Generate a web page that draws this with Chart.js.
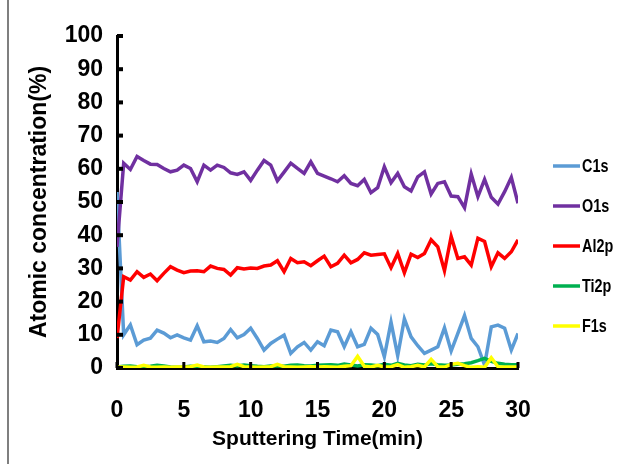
<!DOCTYPE html>
<html>
<head>
<meta charset="utf-8">
<script src="https://cdn.jsdelivr.net/npm/chart.js@4"></script>
<style>
  html, body { margin: 0; padding: 0; background: #fff; }
  #wrap { position: relative; width: 632px; height: 464px; }
</style>
</head>
<body>
<div id="wrap"><canvas id="depthProfile" width="632" height="464"></canvas></div>
<script>
// sputtering time (min), one reading every half minute
const tempos = [
  0, 0.5, 1, 1.5, 2, 2.5, 3, 3.5, 4, 4.5,
  5, 5.5, 6, 6.5, 7, 7.5, 8, 8.5, 9, 9.5,
  10, 10.5, 11, 11.5, 12, 12.5, 13, 13.5, 14, 14.5,
  15, 15.5, 16, 16.5, 17, 17.5, 18, 18.5, 19, 19.5,
  20, 20.5, 21, 21.5, 22, 22.5, 23, 23.5, 24, 24.5,
  25, 25.5, 26, 26.5, 27, 27.5, 28, 28.5, 29, 29.5, 30
];

const c1s = [
  53, 10, 13, 7, 8.4, 9, 11.4, 10.5, 9.1, 10,
  9.1, 8.4, 12.7, 7.9, 8.1, 7.7, 8.9, 11.6, 9.1, 10.1,
  12, 8.9, 5.4, 7.4, 8.7, 9.9, 4.4, 6.4, 7.7, 5.4,
  7.9, 6.7, 11.4, 10.9, 6.4, 10.9, 6.4, 7.1, 12, 10.1,
  3.4, 13.8, 3.7, 14.8, 9.4, 6.7, 4.4, 5.4, 6.4, 12.1,
  5.1, 10.4, 15.8, 8.9, 6.4, 0.9, 12.4, 12.9, 12, 5.4, 10.4
];

const o1s = [
  36.5, 61.7, 59.8, 63.7, 62.5, 61.4, 61.3, 60.1, 59.1, 59.6,
  61.1, 60.1, 56.1, 61.1, 59.6, 61.1, 60.4, 58.8, 58.3, 59.1,
  56.5, 59.6, 62.5, 61.1, 56.4, 59.0, 61.7, 60.1, 58.6, 62.1,
  58.6, 57.8, 57.0, 56.1, 57.9, 55.6, 54.9, 56.8, 52.8, 54.3,
  60.6, 55.8, 58.6, 54.6, 53.3, 57.6, 59.1, 52.4, 55.6, 56.1,
  51.8, 51.6, 48.3, 58.4, 51.6, 56.8, 51.4, 49.4, 53.1, 57.4, 49.6
];

const al2p = [
  9, 27.5, 26.5, 29, 27.3, 28.3, 26.3, 28.5, 30.5, 29.5,
  28.7, 29.2, 29.3, 29, 30.7, 30, 29.7, 28, 30.2, 29.8,
  30.1, 30, 30.7, 31, 32.3, 29, 33, 31.7, 32, 30.8,
  32.3, 33.7, 30.5, 31.5, 34, 31.7, 32.7, 34.7, 34, 34.2,
  34.4, 30.2, 34.5, 28.7, 34.3, 33.3, 34.5, 38.6, 36.5, 29.3,
  39.6, 33, 33.5, 31, 39.1, 38.1, 30.5, 34.7, 33, 35, 38.6
];

const ti2p = [
  0.3, 0.5, 0.6, 0.4, 0.3, 0.5, 0.8, 0.6, 0.3, 0.2,
  0.3, 0.5, 0.4, 0.3, 0.2, 0.4, 0.6, 0.8, 0.6, 0.9,
  0.7, 0.5, 0.4, 0.6, 0.7, 0.5, 0.8, 0.9, 0.7, 0.6,
  0.8, 0.9, 1.0, 0.8, 1.2, 0.9, 0.6, 1.0, 0.9, 0.7,
  1.1, 0.8, 1.4, 0.9, 0.7, 1.1, 0.9, 1.3, 1.0, 0.8,
  0.9, 1.1, 1.3, 1.6, 2.2, 2.9, 2.0, 1.4, 1.1, 1.0, 1.0
];

const f1s = [
  0.3, 0.3, 0.2, 0.3, 0.8, 0.3, 0.2, 0.3, 0.2, 0.3,
  0.3, 0.4, 0.9, 0.3, 0.2, 0.3, 0.3, 0.4, 1.1, 0.4,
  0.3, 0.2, 0.3, 0.4, 1.1, 0.4, 0.3, 0.2, 0.3, 0.4,
  0.3, 0.4, 0.3, 0.2, 0.5, 0.7, 3.5, 0.5, 0.3, 0.8,
  0.3, 0.4, 1.0, 0.2, 0.4, 0.8, 0.3, 2.6, 0.4, 0.3,
  1.1, 1.4, 0.7, 0.2, 0.4, 0.2, 3.1, 0.4, 0.3, 0.3, 0.3
];

const nomes = ['C1s', 'O1s', 'Al2p', 'Ti2p', 'F1s'];
const series = [c1s, o1s, al2p, ti2p, f1s];
const cores = ['#5B9BD5', '#7030A0', '#FF0000', '#00B050', '#FFFF00'];

const fonteEixo = "'Liberation Sans', Arial, sans-serif";

function pontos(vals) {
  return vals.map((v, i) => ({ x: tempos[i], y: v }));
}

// inward tick marks + outer frame
const marcas = {
  id: 'marcas',
  beforeDraw(chart) {
    const ctx = chart.ctx;
    ctx.save();
    ctx.strokeStyle = '#7f7f7f';
    ctx.lineWidth = 2;
    ctx.beginPath();
    ctx.moveTo(8, 0);
    ctx.lineTo(8, 464);
    ctx.stroke();
    ctx.restore();
  },
  afterDraw(chart) {
    const ctx = chart.ctx;
    const xs = chart.scales.x, ys = chart.scales.y;
    ctx.save();
    ctx.strokeStyle = '#000';
    ctx.lineWidth = 4;
    ys.ticks.forEach((t, i) => {
      const py = ys.getPixelForTick(i);
      ctx.beginPath();
      ctx.moveTo(ys.right, py);
      ctx.lineTo(ys.right + 6, py);
      ctx.stroke();
    });
    ctx.lineWidth = 3;
    xs.ticks.forEach((t, i) => {
      const px = xs.getPixelForTick(i);
      ctx.beginPath();
      ctx.moveTo(px, xs.top);
      ctx.lineTo(px, xs.top - 6);
      ctx.stroke();
    });
    ctx.restore();
  }
};

// legend on the right, text squeezed a little
const legenda = {
  id: 'legenda',
  afterDraw(chart) {
    const ctx = chart.ctx;
    ctx.save();
    ctx.font = "bold 18px " + fonteEixo;
    ctx.textBaseline = 'middle';
    ctx.fillStyle = '#000';
    chart.data.datasets.forEach((ds, i) => {
      const y = 166 + i * 40;
      ctx.strokeStyle = ds.borderColor;
      ctx.lineWidth = 3.5;
      ctx.beginPath();
      ctx.moveTo(553, y);
      ctx.lineTo(580, y);
      ctx.stroke();
      ctx.save();
      ctx.translate(582, y + 1);
      ctx.scale(0.8, 1);
      ctx.fillText(ds.label, 0, 0);
      ctx.restore();
    });
    ctx.restore();
  }
};

const grafico = new Chart(document.getElementById('depthProfile'), {
  type: 'line',
  data: {
    datasets: nomes.map((n, i) => ({
      label: n,
      data: pontos(series[i]),
      borderColor: cores[i],
      backgroundColor: cores[i],
      borderWidth: 3.5,
      pointRadius: 0,
      tension: 0,
      order: nomes.length - i
    }))
  },
  options: {
    responsive: false,
    animation: false,
    devicePixelRatio: 1,
    layout: { padding: { left: 22, right: 114, top: 36, bottom: 8 } },
    plugins: {
      legend: { display: false },
      tooltip: { enabled: false }
    },
    scales: {
      x: {
        type: 'linear',
        min: 0,
        max: 30,
        afterFit(s) { s.height = 464 - 8 - 368; },
        grid: { display: false, drawTicks: false },
        border: { display: true, color: '#000', width: 3 },
        ticks: {
          stepSize: 5,
          padding: 29,
          color: '#000',
          font: { family: fonteEixo, size: 23, weight: 'bold' }
        },
        title: {
          display: true,
          text: 'Sputtering Time(min)',
          color: '#000',
          padding: 4,
          font: { family: fonteEixo, size: 21, weight: 'bold' }
        }
      },
      y: {
        min: 0,
        max: 100,
        afterFit(s) { s.width = 117 - 22; },
        grid: { display: false, drawTicks: false },
        border: { display: true, color: '#000', width: 3 },
        ticks: {
          stepSize: 10,
          padding: 14,
          color: '#000',
          font: { family: fonteEixo, size: 23, weight: 'bold' }
        },
        title: {
          display: true,
          text: 'Atomic concentration(%)',
          color: '#000',
          padding: 4,
          font: { family: fonteEixo, size: 23, weight: 'bold' }
        }
      }
    }
  },
  plugins: [marcas, legenda]
});
</script>
</body>
</html>
